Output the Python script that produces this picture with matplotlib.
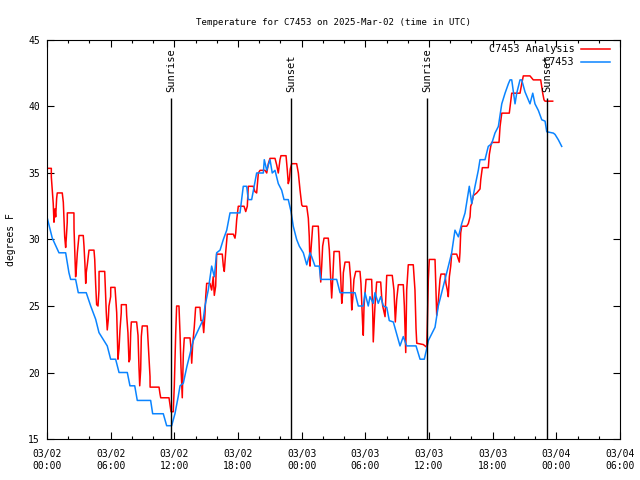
import matplotlib
matplotlib.use('Agg')
import matplotlib.pyplot as plt
from matplotlib.ticker import MultipleLocator

# hours since 2025-03-02 00:00 UTC
blue_t = [0.00, 0.19, 0.50, 1.13, 1.76, 2.07, 2.23, 2.70, 2.95, 3.70, 4.12, 4.59, 4.90, 5.37, 5.68,
          6.00, 6.47, 6.79, 7.57, 7.82, 8.27, 8.51, 9.77, 9.96, 10.96, 11.28, 11.75, 12.06, 12.37,
          12.54, 12.85, 13.17, 13.48, 13.79, 14.26, 14.73, 14.89, 15.20, 15.52, 15.77, 15.99, 16.31,
          16.62, 16.94, 17.25, 18.19, 18.50, 18.82, 18.97, 19.29, 19.76, 20.39, 20.48, 20.71, 21.02,
          21.23, 21.49, 21.80, 22.12, 22.34, 22.74, 23.00, 23.21, 23.53, 23.78, 24.16, 24.48, 24.79,
          24.95, 25.26, 25.66, 25.80, 27.30, 27.62, 29.03, 29.34, 29.81, 29.97, 30.28, 30.44, 30.75,
          30.91, 31.22, 31.45, 31.70, 32.02, 32.26, 32.64, 32.96, 33.27, 33.58, 33.90, 34.78, 35.16,
          35.56, 35.79, 35.94, 36.26, 36.57, 36.88, 37.20, 37.51, 37.83, 38.14, 38.45, 38.77, 39.09,
          39.40, 39.80, 40.03, 40.34, 40.65, 40.81, 41.28, 41.59, 41.91, 42.22, 42.54, 42.86, 43.17,
          43.48, 43.64, 43.80, 44.11, 44.27, 44.58, 44.74, 45.05, 45.52, 45.78, 45.99, 46.31, 46.63,
          46.94, 47.10, 47.72, 47.88, 48.19, 48.51]
blue_v = [31.7, 31.1, 30.1, 29.0, 29.0, 27.5, 27.0, 27.0, 26.0, 26.0, 25.0, 24.0, 23.0, 22.4, 22.0,
          21.0, 21.0, 20.0, 20.0, 19.0, 19.0, 17.9, 17.9, 16.9, 16.9, 16.0, 16.0, 16.9, 18.2,
          19.0, 19.2, 20.4, 21.4, 22.4, 23.2, 24.0, 25.0, 26.2, 28.0, 27.2, 29.0, 29.2,
          30.0, 30.7, 32.0, 32.0, 34.0, 34.0, 33.0, 33.0, 35.0, 35.0, 36.0, 35.2, 36.0,
          35.0, 35.2, 34.2, 33.7, 33.0, 33.0, 32.1, 31.0, 30.0, 29.5, 29.0, 28.1, 29.0,
          28.7, 28.0, 28.0, 27.0, 27.0, 26.0, 26.0, 25.0, 25.0, 26.0, 25.0, 25.7, 25.2,
          26.0, 25.2, 25.7, 25.0, 24.9, 23.9, 23.8, 22.9, 22.0, 22.7, 22.0, 22.0, 21.0,
          21.0, 21.8, 22.4, 22.9, 23.4, 25.0, 26.0, 27.0, 28.0, 29.0, 30.7, 30.2, 31.2,
          32.0, 34.0, 32.7, 34.0, 35.2, 36.0, 36.0, 37.0, 37.2, 38.0, 38.5, 40.2, 41.0,
          41.7, 42.0, 42.0, 40.2, 41.0, 42.0, 42.0, 41.1, 40.2, 41.0, 40.2, 39.7, 39.0,
          38.9, 38.1, 38.0, 37.9, 37.5, 37.0]

red_t = [0.00, 0.41, 0.41, 0.59, 0.66, 0.75, 0.82, 0.91, 0.97, 1.44, 1.54, 1.67, 1.76, 1.82, 1.91,
         1.92, 2.54, 2.55, 2.64, 2.70, 2.76, 2.86, 2.95, 3.02, 3.42, 3.49, 3.58, 3.65, 3.70, 3.80,
         3.96, 4.43, 4.50, 4.59, 4.68, 4.81, 4.90, 4.91, 5.44, 5.49, 5.59, 5.68, 5.78, 5.84, 6.00,
         6.01, 6.41, 6.47, 6.57, 6.69, 6.79, 6.88, 7.00, 7.01, 7.47, 7.51, 7.63, 7.73, 7.82, 7.89,
         7.95, 8.45, 8.58, 8.67, 8.74, 8.83, 8.89, 8.98, 9.45, 9.61, 9.71, 9.72, 10.56, 10.65, 10.72,
         11.50, 11.59, 11.69, 11.90, 12.00, 12.13, 12.22, 12.44, 12.54, 12.63, 12.75, 12.85, 12.94,
         13.48, 13.57, 13.64, 13.73, 13.88, 14.01, 14.42, 14.51, 14.67, 14.77, 14.89, 14.96, 15.05,
         15.36, 15.52, 15.67, 15.77, 15.90, 15.99, 16.52, 16.62, 16.71, 16.84, 16.99, 17.56, 17.72,
         17.79, 17.88, 18.03, 18.57, 18.73, 18.88, 18.97, 19.44, 19.60, 19.76, 19.92, 20.08, 20.55,
         20.71, 20.86, 21.02, 21.49, 21.65, 21.80, 21.96, 22.05, 22.53, 22.65, 22.74, 22.84, 22.93,
         23.06, 23.53, 23.69, 23.85, 24.01, 24.10, 24.48, 24.63, 24.72, 24.79, 24.88, 25.04, 25.57,
         25.63, 25.73, 25.80, 25.89, 25.98, 26.11, 26.51, 26.61, 26.74, 26.83, 26.93, 27.05, 27.55,
         27.68, 27.78, 27.87, 27.93, 28.09, 28.49, 28.62, 28.72, 28.81, 28.93, 29.10, 29.50, 29.59,
         29.75, 29.81, 29.88, 30.07, 30.60, 30.70, 30.75, 30.91, 31.07, 31.45, 31.54, 31.64, 31.86,
         32.02, 32.54, 32.70, 32.83, 32.96, 33.11, 33.58, 33.68, 33.81, 33.90, 34.05, 34.52, 34.68,
         34.78, 34.85, 35.47, 35.79, 35.84, 35.94, 36.03, 36.57, 36.66, 36.73, 36.88, 37.04, 37.13,
         37.51, 37.60, 37.73, 37.82, 37.92, 38.05, 38.14, 38.61, 38.77, 38.86, 38.92, 38.99, 39.09,
         39.56, 39.71, 39.87, 39.93, 40.03, 40.18, 40.50, 40.81, 40.88, 41.03, 41.59, 41.69, 41.82,
         41.91, 42.60, 42.70, 42.86, 43.57, 43.80, 44.58, 44.74, 44.89, 45.52, 45.83, 46.53, 46.72,
         46.84, 46.94, 47.66]
red_v = [35.35, 35.35, 34.7, 32.7, 31.3, 32.3, 31.7, 33.1, 33.5, 33.5, 32.8, 30.2, 29.4, 30.1, 31.3,
         32.0, 32.0, 30.8, 28.5, 27.2, 27.7, 29.0, 29.7, 30.3, 30.3, 29.5, 28.1, 26.7, 27.5, 28.1,
         29.2, 29.2, 28.5, 26.6, 25.1, 25.0, 26.2, 27.6, 27.6, 26.5, 24.5, 23.2, 24.0, 25.0, 25.7,
         26.4, 26.4, 25.7, 24.5, 21.0, 21.8, 23.2, 24.5, 25.1, 25.1, 24.3, 23.0, 20.8, 21.0, 23.0,
         23.8, 23.8, 22.8, 20.4, 19.0, 20.2, 22.7, 23.5, 23.5, 21.2, 19.7, 18.9, 18.9, 18.4, 18.1,
         18.1, 17.6, 17.05, 17.05, 19.0, 22.9, 25.0, 25.0, 22.9, 20.4, 18.1, 21.4, 22.6,
         22.6, 21.9, 20.7, 22.1, 23.4, 24.9, 24.9, 23.9, 23.9, 23.0, 24.4, 25.7, 26.7,
         26.7, 26.2, 27.2, 25.8, 26.5, 28.9, 28.9, 28.0, 27.6, 29.0, 30.4, 30.4, 30.1,
         30.5, 31.5, 32.5, 32.5, 32.1, 32.5, 34.0, 34.0, 33.6, 33.5, 35.0, 35.2, 35.2,
         35.0, 35.7, 36.1, 36.1, 35.6, 35.0, 36.0, 36.3, 36.3, 35.2, 34.2, 34.5, 35.3,
         35.7, 35.7, 35.0, 33.7, 32.6, 32.5, 32.5, 31.6, 30.2, 28.0, 29.2, 31.0, 31.0,
         30.0, 27.8, 26.8, 28.0, 29.5, 30.1, 30.1, 29.2, 27.0, 25.6, 27.0, 29.1, 29.1,
         27.2, 25.2, 26.0, 27.5, 28.3, 28.3, 27.0, 24.7, 25.5, 27.0, 27.6, 27.6, 26.7,
         23.6, 22.8, 25.0, 27.0, 27.0, 24.5, 22.3, 25.0, 26.8, 26.8, 25.7, 25.0, 24.2,
         27.3, 27.3, 26.2, 23.8, 25.5, 26.6, 26.6, 25.0, 21.5, 26.2, 28.1, 28.1, 26.2,
         23.3, 22.2, 22.1, 21.9, 23.4, 27.0, 28.5, 28.5, 26.0, 24.3, 25.4, 27.0, 27.4,
         27.4, 26.7, 26.2, 25.7, 27.2, 28.0, 28.9, 28.9, 28.5, 28.3, 29.0, 30.5, 31.0,
         31.0, 31.2, 31.7, 32.5, 32.7, 33.3, 33.5, 33.8, 34.5, 35.4, 35.4, 36.4, 37.0,
         37.3, 37.3, 38.5, 39.5, 39.5, 41.0, 41.0, 41.7, 42.3, 42.3, 42.0, 42.0, 41.0,
         40.5, 40.4, 40.4]

sun_t = [11.69, 23.00, 35.81, 47.13]
sun_labels = ['Sunrise', 'Sunset', 'Sunrise', 'Sunset']

xtick_pos = [0, 6, 12, 18, 24, 30, 36, 42, 48, 54]
xtick_labels = ['03/02\n00:00', '03/02\n06:00', '03/02\n12:00', '03/02\n18:00',
                '03/03\n00:00', '03/03\n06:00', '03/03\n12:00', '03/03\n18:00',
                '03/04\n00:00', '03/04\n06:00']

plt.rcParams['font.family'] = 'DejaVu Sans Mono'
plt.rcParams['font.size'] = 7

fig = plt.figure(figsize=(6.4, 4.8), dpi=100)
ax = fig.add_axes([0.0734, 0.0854, 0.8953, 0.8313])

ax.plot(red_t, red_v, color='#ff0000', lw=1.1, label='C7453 Analysis')
ax.plot(blue_t, blue_v, color='#0a84ff', lw=1.1, label='C7453')

for t, lab in zip(sun_t, sun_labels):
    ax.vlines(t, 15, 40.65, color='black', lw=1)
    ax.text(t, 41.1, lab, rotation=90, ha='center', va='bottom', fontsize=7.5)

ax.set_xlim(0, 54)
ax.set_ylim(15, 45)
ax.set_xticks(xtick_pos)
ax.set_xticklabels(xtick_labels, linespacing=1.3)
ax.xaxis.set_minor_locator(MultipleLocator(2))
ax.set_yticks([15, 20, 25, 30, 35, 40, 45])
ax.tick_params(which='both', direction='in', top=True, right=True, width=0.8)
ax.tick_params(which='major', length=5, pad=5)
ax.tick_params(axis='x', which='major', pad=7)
ax.tick_params(which='minor', length=2.5)
for s in ax.spines.values():
    s.set_linewidth(0.8)

ax.set_ylabel('degrees F', labelpad=9)
ax.set_title('Temperature for C7453 on 2025-Mar-02 (time in UTC)', fontsize=6.6, pad=11)

ax.legend(loc='upper right', bbox_to_anchor=(0.9825, 0.989), frameon=False, markerfirst=False,
          handlelength=2.9, borderaxespad=0, borderpad=0, labelspacing=0.3, fontsize=7.3,
          handletextpad=0.6)

plt.savefig('out.png', dpi=100)
